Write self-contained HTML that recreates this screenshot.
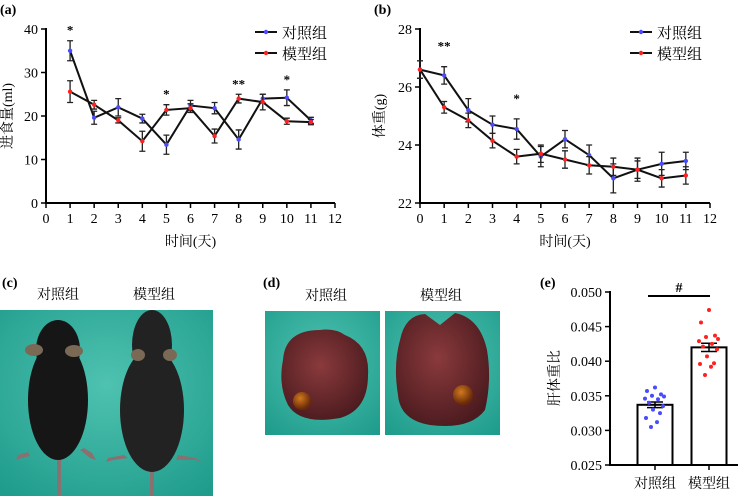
<!DOCTYPE html>
<html><head><meta charset="utf-8"><style>
html,body{margin:0;padding:0;background:#fff;}
svg{display:block;font-family:"Liberation Serif","Noto Serif CJK SC","Noto Sans CJK SC",serif;}
</style></head><body>
<svg id="fig" width="746" height="496" viewBox="0 0 746 496" xmlns="http://www.w3.org/2000/svg">
<defs>
<radialGradient id="teal" cx="50%" cy="40%" r="75%"><stop offset="0" stop-color="#4fc2b0"/><stop offset="1" stop-color="#1f9c8c"/></radialGradient>
<radialGradient id="liver" cx="45%" cy="40%" r="65%"><stop offset="0" stop-color="#8a3a3c"/><stop offset="1" stop-color="#4a1a1e"/></radialGradient>
<radialGradient id="gb" cx="40%" cy="35%" r="60%"><stop offset="0" stop-color="#d07a20"/><stop offset="1" stop-color="#6a2a08"/></radialGradient>
</defs>
<g id="gA"></g>
<g id="gB"></g>
<g id="gC">
<text x="2" y="287" font-size="14" font-weight="bold">(c)</text>
<text x="58" y="299" font-size="14" text-anchor="middle">对照组</text>
<text x="154" y="299" font-size="14" text-anchor="middle">模型组</text>
<rect x="0" y="310" width="213" height="186" fill="url(#teal)"/>
<g fill="#161616">
<path d="M28 452 L18 455 L16 460 L22 458 L30 456Z" fill="#8a7070"/><path d="M80 450 L90 458 L96 460 L92 453 L84 448Z" fill="#8a7070"/>
<rect x="57" y="455" width="4" height="41" fill="#8a7070"/>
<ellipse cx="58" cy="400" rx="30" ry="60"/><ellipse cx="58" cy="350" rx="22" ry="30"/>
<ellipse cx="34" cy="350" rx="9" ry="6" fill="#7a6a55"/><ellipse cx="74" cy="351" rx="9" ry="6" fill="#7a6a55"/>
</g>
<g fill="#222">
<path d="M124 455 L108 458 L106 462 L114 460 L128 458Z" fill="#8a7070"/><path d="M178 455 L196 458 L202 463 L196 460 L176 460Z" fill="#8a7070"/>
<rect x="150" y="465" width="4" height="31" fill="#8a7070"/>
<ellipse cx="152" cy="410" rx="32" ry="62"/><ellipse cx="152" cy="345" rx="20" ry="35"/>
<ellipse cx="138" cy="355" rx="7" ry="6" fill="#7a6a55"/><ellipse cx="170" cy="355" rx="7" ry="6" fill="#7a6a55"/>
</g>
</g>
<g id="gD">
<text x="263" y="287" font-size="14" font-weight="bold">(d)</text>
<text x="326" y="300" font-size="14" text-anchor="middle">对照组</text>
<text x="441" y="300" font-size="14" text-anchor="middle">模型组</text>
<rect x="265" y="311" width="115" height="124" fill="url(#teal)"/>
<rect x="385" y="311" width="115" height="124" fill="url(#teal)"/>
<path d="M283 360 Q285 330 320 330 Q335 328 345 335 Q370 345 368 375 Q368 410 340 418 Q300 425 288 405 Q278 385 283 360Z" fill="url(#liver)"/>
<circle cx="302" cy="401" r="9" fill="url(#gb)"/>
<path d="M400 340 Q405 315 425 314 L440 325 L455 313 Q480 318 487 350 Q492 380 485 410 Q470 430 430 425 Q400 420 398 395 Q393 365 400 340Z" fill="url(#liver)"/>
<circle cx="463" cy="395" r="10" fill="url(#gb)"/>
</g>
<g id="gE"></g>
</svg>
<script>
const NS="http://www.w3.org/2000/svg";
function el(parent,tag,attrs,txt){const e=document.createElementNS(NS,tag);for(const k in attrs)e.setAttribute(k,attrs[k]);if(txt!==undefined)e.textContent=txt;parent.appendChild(e);return e;}

// ---- chart (a) data
const aDays=[1,2,3,4,5,6,7,8,9,10,11];
const aCtrl=[35,19.6,22,19.4,13.4,22.4,21.8,14.6,24,24.2,19];
const aCtrlErr=[2.3,1.5,2,1,2.2,1.2,1.3,2.2,1,1.8,0.7];
const aModel=[25.6,22.6,19,14.2,21.4,21.8,15.4,24,23.2,18.8,18.6];
const aModelErr=[2.5,1,0.6,2.3,1.2,1,1.6,1,1.8,0.7,0.6];
const aYTicks=[0,10,20,30,40];
const aXTicks=[0,1,2,3,4,5,6,7,8,9,10,11,12];
const aStars=[[1,"*"],[5,"*"],[8,"**"],[10,"*"]];
// ---- chart (b) data
const bDays=[0,1,2,3,4,5,6,7,8,9,10,11];
const bCtrl=[26.6,26.4,25.2,24.7,24.55,23.6,24.2,23.65,22.85,23.15,23.35,23.45];
const bCtrlErr=[0.3,0.3,0.4,0.3,0.35,0.35,0.3,0.35,0.5,0.4,0.4,0.3];
const bModel=[26.6,25.3,24.85,24.15,23.6,23.7,23.5,23.3,23.25,23.15,22.85,22.95];
const bModelErr=[0.3,0.2,0.25,0.25,0.25,0.3,0.3,0.3,0.3,0.3,0.3,0.3];
const bYTicks=[22,24,26,28];
const bXTicks=[0,1,2,3,4,5,6,7,8,9,10,11,12];
const bStars=[[1,"**"],[4,"*"]];
// ---- chart (e) data
const eGroups=["对照组","模型组"];
const eMeans=[0.0337,0.0420];
const eErr=[0.0004,0.0006];
const eCtrlPts=[0.0362,0.0357,0.0352,0.0350,0.0349,0.0346,0.0345,0.0340,0.0335,0.0330,0.0325,0.0318,0.0312,0.0305];
const eModelPts=[0.0474,0.0456,0.0437,0.0435,0.0432,0.0429,0.0425,0.0421,0.0417,0.0407,0.0397,0.0396,0.0392,0.0380];
const eYTicks=[0.025,0.030,0.035,0.040,0.045,0.050];

function lineChart(g,o){
  const sx=v=>o.x0+(v-o.xmin)/(o.xmax-o.xmin)*(o.x1-o.x0);
  const sy=v=>o.y0-(v-o.ymin)/(o.ymax-o.ymin)*(o.y0-o.y1);
  let t=el(g,'text',{x:o.x0-46,y:14,'font-size':14,'font-weight':'bold'},o.label);
  
  let ax=el(g,'path',{d:`M${o.x0} ${o.y1-1}V${o.y0}H${o.x1}`,stroke:'#000','stroke-width':2,fill:'none'});
  
  o.yt.forEach(v=>{el(g,'line',{x1:o.x0-5,x2:o.x0,y1:sy(v),y2:sy(v),stroke:'#000','stroke-width':1.5});
    let l=el(g,'text',{x:o.x0-8,y:sy(v)+5,'font-size':14,'text-anchor':'end'},v);
    });
  o.xt.forEach(v=>{el(g,'line',{x1:sx(v),x2:sx(v),y1:o.y0,y2:o.y0+5,stroke:'#000','stroke-width':1.5});
    let l=el(g,'text',{x:sx(v),y:o.y0+20,'font-size':14,'text-anchor':'middle'},v);
    });
  let xt=el(g,'text',{x:(o.x0+o.x1)/2,y:o.y0+43,'font-size':14,'text-anchor':'middle'},'时间(天)');
  
  let yc=(o.y0+o.y1)/2;
  let yt=el(g,'text',{x:o.ytx,y:yc,'font-size':14,'text-anchor':'middle',transform:`rotate(-90 ${o.ytx} ${yc})`},o.ytitle);
  
  [[o.c,o.ce,'#4a4aff','control'],[o.m,o.me,'#ff2020','model']].forEach(([vals,errs,col,nm])=>{
    const s=el(g,'g',{});
    el(s,'polyline',{points:o.xs.map((x,i)=>sx(x)+','+sy(vals[i])).join(' '),fill:'none',stroke:'#111','stroke-width':2});
    o.xs.forEach((x,i)=>{const X=sx(x),a=sy(vals[i]-errs[i]),b=sy(vals[i]+errs[i]);
      el(s,'path',{d:`M${X} ${a}V${b}M${X-3} ${a}h6M${X-3} ${b}h6`,stroke:'#222','stroke-width':1.3,fill:'none'});
      const p=el(s,'circle',{cx:X,cy:sy(vals[i]),r:2.2,fill:col});
      });
  });
  o.stars.forEach(([x,s])=>{const v=Math.max(o.c[o.xs.indexOf(x)]+o.ce[o.xs.indexOf(x)],o.m[o.xs.indexOf(x)]+o.me[o.xs.indexOf(x)]);
    const st=el(g,'text',{x:sx(x),y:sy(v)-8+o.starOff,'font-size':13,'font-weight':'bold','text-anchor':'middle'},s);
    });
  [['对照组','#4a4aff',32],['模型组','#ff2020',53]].forEach(([n,c,y])=>{
    const lg=el(g,'g',{});
    el(lg,'line',{x1:o.lgx,x2:o.lgx+22,y1:y,y2:y,stroke:'#111','stroke-width':2});
    el(lg,'circle',{cx:o.lgx+11,cy:y,r:2.2,fill:c});
    el(lg,'text',{x:o.lgx+27,y:y+6,'font-size':15},n);});
}
lineChart(document.getElementById('gA'),{label:'(a)',x0:46,x1:335,y0:203,y1:29,xmin:0,xmax:12,ymin:0,ymax:40,yt:aYTicks,xt:aXTicks,xs:aDays,c:aCtrl,ce:aCtrlErr,m:aModel,me:aModelErr,stars:aStars,ytitle:'进食量(ml)',ytx:12,lgx:255,starOff:2});
lineChart(document.getElementById('gB'),{label:'(b)',x0:420,x1:710,y0:203,y1:29,xmin:0,xmax:12,ymin:22,ymax:28,yt:bYTicks,xt:bXTicks,xs:bDays,c:bCtrl,ce:bCtrlErr,m:bModel,me:bModelErr,stars:bStars,ytitle:'体重(g)',ytx:384,lgx:630,starOff:-8});

// chart (e)
(function(){
  const g=document.getElementById('gE');
  const x0=610,y0=465,y1=292,ymin=0.025,ymax=0.050;
  const sy=v=>y0-(v-ymin)/(ymax-ymin)*(y0-y1);
  const bx=[655,709],bw=35;
  let t=el(g,'text',{x:540,y:287,'font-size':14,'font-weight':'bold'},'(e)');
  
  eMeans.forEach((m,i)=>{const r=el(g,'rect',{x:bx[i]-bw/2,y:sy(m),width:bw,height:y0-sy(m),fill:'#fff',stroke:'#000','stroke-width':2});
    
    el(g,'path',{d:`M${bx[i]} ${sy(m-eErr[i])}V${sy(m+eErr[i])}M${bx[i]-8} ${sy(m-eErr[i])}h16M${bx[i]-8} ${sy(m+eErr[i])}h16`,stroke:'#000','stroke-width':1.5,fill:'none'});
    let l=el(g,'text',{x:bx[i],y:488,'font-size':14,'text-anchor':'middle'},eGroups[i]);
    
    el(g,'line',{x1:bx[i],x2:bx[i],y1:y0,y2:y0+5,stroke:'#000','stroke-width':1.5});});
  const jit=[0,-8,6,-3,9,-10,3,-6,8,-2,5,-9,2,-4];
  [[eCtrlPts,'#4a4aff'],[eModelPts,'#ff2020']].forEach(([pts,c],i)=>pts.forEach((v,j)=>{
    const d=el(g,'circle',{cx:bx[i]+jit[j],cy:sy(v),r:2,fill:c});
    }));
  let ax=el(g,'path',{d:`M${x0} ${y1-1}V${y0}H${x0+128}`,stroke:'#000','stroke-width':2,fill:'none'});
  
  eYTicks.forEach(v=>{el(g,'line',{x1:x0-5,x2:x0,y1:sy(v),y2:sy(v),stroke:'#000','stroke-width':1.5});
    let l=el(g,'text',{x:x0-8,y:sy(v)+5,'font-size':14,'text-anchor':'end'},v.toFixed(3));
    });
  let yt=el(g,'text',{x:559,y:378,'font-size':14,'text-anchor':'middle',transform:'rotate(-90 559 378)'},'肝体重比');
  
  let br=el(g,'line',{x1:648,x2:710,y1:296,y2:296,stroke:'#000','stroke-width':2});
  
  let h=el(g,'text',{x:679,y:292,'font-size':14,'font-weight':'bold','text-anchor':'middle'},'#');
  
})();
</script>
</body></html>
